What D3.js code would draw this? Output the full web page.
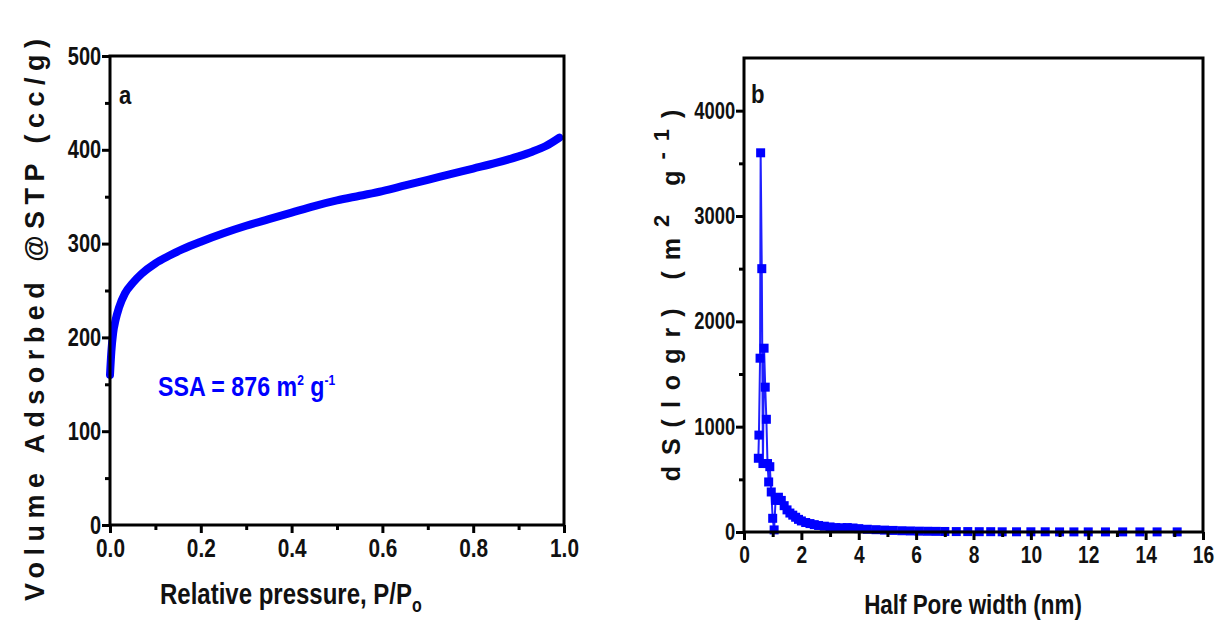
<!DOCTYPE html>
<html>
<head>
<meta charset="utf-8">
<script src="https://cdn.jsdelivr.net/npm/d3@7"></script>
<style>
  body { margin: 0; background: #fff; }
  svg { display: block; }
  .narrow { font-family: "Liberation Sans Narrow", "Arial Narrow", "Liberation Sans", Arial, sans-serif; font-weight: bold; }
  .wide { font-family: "Liberation Sans", Arial, sans-serif; font-weight: bold; }
</style>
</head>
<body>
<svg id="chart" width="1216" height="624"></svg>
<script>
// panel a: N2 isotherm
const pressure = [0.0, 0.003, 0.007, 0.012, 0.02, 0.033, 0.05, 0.07, 0.1, 0.13, 0.16, 0.2, 0.25, 0.3, 0.35, 0.4, 0.45, 0.5, 0.55, 0.6, 0.65, 0.7, 0.75, 0.8, 0.85, 0.9, 0.93, 0.96, 0.99];
const volume = [160, 185, 205, 218, 232, 247, 258, 268, 279, 287, 294, 302, 311, 319, 326, 333, 340, 346, 351, 356, 362, 368, 374, 380, 386, 393, 398, 404, 413];
const xTicksA = [0, 0.2, 0.4, 0.6, 0.8, 1.0];
const yTicksA = [0, 100, 200, 300, 400, 500];

// panel b: pore size distribution
const poreWidth = [0.50, 0.52, 0.56, 0.58, 0.62, 0.66, 0.70, 0.74, 0.78, 0.82, 0.86, 0.90, 0.95, 1.00, 1.05, 1.10, 1.20, 1.30, 1.40, 1.50, 1.60, 1.70, 1.80, 1.90, 2.00, 2.15, 2.30, 2.45, 2.60, 2.80, 3.00, 3.20, 3.40, 3.60, 3.80, 4.00, 4.30, 4.60, 4.90, 5.20, 5.50, 5.80, 6.10, 6.40, 6.70, 7.00, 7.40, 7.80, 8.20, 8.60, 9.00, 9.50, 10.0, 10.5, 11.0, 11.5, 12.0, 12.6, 13.2, 13.8, 14.4, 15.1];
const dS = [700, 920, 1650, 3600, 2500, 650, 1745, 1375, 1070, 650, 475, 620, 380, 130, 20, 300, 330, 300, 250, 210, 180, 160, 140, 120, 105, 90, 80, 70, 62, 55, 48, 42, 40, 42, 38, 32, 26, 22, 18, 15, 12, 10, 8, 7, 6, 5, 4, 4, 3, 3, 2, 2, 2, 2, 1, 1, 1, 1, 1, 1, 1, 1];
const xTicksB = [0, 2, 4, 6, 8, 10, 12, 14, 16];
const yTicksB = [0, 1000, 2000, 3000, 4000];

const blue = "#0000ff";
const svg = d3.select("#chart");

// condensed text: no narrow font installed, so squeeze horizontally
function squeezed(g, x, y, sx, anchor) {
  return g.append("g")
    .attr("transform", `translate(${x},${y}) scale(${sx},1)`)
    .append("text").attr("class", "narrow")
    .attr("text-anchor", anchor || "start");
}

function frame(g, x, y, xMajor, xMinor, yMajor, yMinor, xFmt, yFont, xFont) {
  const [x0, x1] = x.range();
  const [y0, y1] = y.range();

  const yAxis = g.append("g").attr("transform", `translate(${x0},0)`)
    .call(d3.axisLeft(y).tickValues(yMajor).tickSize(8).tickPadding(3).tickFormat(d3.format("d")));
  yAxis.select(".domain").remove();
  yAxis.selectAll("text").attr("class", "narrow").style("font-size", yFont + "px")
    .attr("fill", "#111").attr("transform", "scale(0.8,1)");

  g.append("g").attr("transform", `translate(${x0},0)`)
    .call(d3.axisLeft(y).tickValues(yMinor).tickSize(5).tickFormat(""))
    .select(".domain").remove();

  const xAxis = g.append("g").attr("transform", `translate(0,${y0})`)
    .call(d3.axisBottom(x).tickValues(xMajor).tickSize(8).tickPadding(6).tickFormat(xFmt));
  xAxis.select(".domain").remove();
  xAxis.selectAll("text").attr("class", "narrow").style("font-size", xFont + "px")
    .attr("fill", "#111").attr("transform", "scale(0.8,1)");

  g.append("g").attr("transform", `translate(0,${y0})`)
    .call(d3.axisBottom(x).tickValues(xMinor).tickSize(5).tickFormat(""))
    .select(".domain").remove();

  g.selectAll(".tick line").attr("stroke", "#000").attr("stroke-width", 3);

  g.append("rect")
    .attr("x", x0).attr("y", y1)
    .attr("width", x1 - x0).attr("height", y0 - y1)
    .attr("fill", "none").attr("stroke", "#000").attr("stroke-width", 3);
}

// ---- panel a ----
const xA = d3.scaleLinear().domain([0, 1]).range([110, 564]);
const yA = d3.scaleLinear().domain([0, 500]).range([525, 56]);
const gA = svg.append("g");

gA.append("path")
  .datum(pressure.map((p, i) => [p, volume[i]]))
  .attr("d", d3.line().x(d => xA(d[0])).y(d => yA(d[1])).curve(d3.curveMonotoneX))
  .attr("fill", "none")
  .attr("stroke", blue)
  .attr("stroke-width", 8)
  .attr("stroke-linecap", "round");

frame(gA, xA, yA, xTicksA, d3.range(0.1, 1, 0.2), yTicksA, d3.range(50, 500, 100),
  d3.format(".1f"), 25, 26);

squeezed(gA, 119, 104, 0.85).style("font-size", "26px").attr("fill", "#111").text("a");

const ssa = squeezed(gA, 158, 396, 0.86).attr("fill", blue).style("font-size", "27px");
ssa.append("tspan").text("SSA = 876 m");
ssa.append("tspan").attr("dy", -11).style("font-size", "14px").text("2");
ssa.append("tspan").attr("dy", 11).text(" g");
ssa.append("tspan").attr("dy", -11).style("font-size", "14px").text("-1");

const xtA = squeezed(gA, 160, 604, 0.8).style("font-size", "30px").attr("fill", "#111");
xtA.append("tspan").text("Relative pressure, P/P");
xtA.append("tspan").attr("dy", 8).style("font-size", "20px").text("o");

gA.append("text").attr("class", "wide")
  .attr("transform", "translate(44,320) rotate(-90)")
  .attr("text-anchor", "middle")
  .attr("textLength", 562).attr("lengthAdjust", "spacing")
  .style("font-size", "27px").attr("fill", "#111")
  .text("Volume Adsorbed @STP (cc/g)");

// ---- panel b ----
const xB = d3.scaleLinear().domain([0, 16]).range([744, 1203]);
const yB = d3.scaleLinear().domain([0, 4500]).range([532, 58]);
const gB = svg.append("g");
const ptsB = poreWidth.map((w, i) => [w, dS[i]]);

gB.append("path")
  .datum(ptsB)
  .attr("d", d3.line().x(d => xB(d[0])).y(d => yB(d[1])))
  .attr("fill", "none")
  .attr("stroke", "#2020ff")
  .attr("stroke-width", 2);

gB.selectAll("rect.pt")
  .data(ptsB)
  .enter().append("rect")
  .attr("class", "pt")
  .attr("x", d => xB(d[0]) - 4.5)
  .attr("y", d => yB(d[1]) - 4.5)
  .attr("width", 9).attr("height", 9)
  .attr("fill", blue);

frame(gB, xB, yB, xTicksB, d3.range(1, 16, 2), yTicksB, d3.range(500, 4500, 1000),
  d3.format("d"), 23, 24);

squeezed(gB, 751, 103, 0.85).style("font-size", "26px").attr("fill", "#111").text("b");

squeezed(gB, 973, 614, 0.8, "middle").style("font-size", "28px").attr("fill", "#111")
  .text("Half Pore width (nm)");

const ytB = gB.append("text").attr("class", "wide")
  .attr("transform", "translate(680,290) rotate(-90)")
  .attr("text-anchor", "middle")
  .style("font-size", "25px").style("letter-spacing", "11px").attr("fill", "#111");
ytB.append("tspan").text("dS(logr) (m");
ytB.append("tspan").attr("dy", -11).style("font-size", "22px").text("2");
ytB.append("tspan").attr("dy", 11).text(" g");
ytB.append("tspan").attr("dy", -11).style("font-size", "22px").text("-1");
ytB.append("tspan").attr("dy", 11).text(")");
</script>
</body>
</html>
